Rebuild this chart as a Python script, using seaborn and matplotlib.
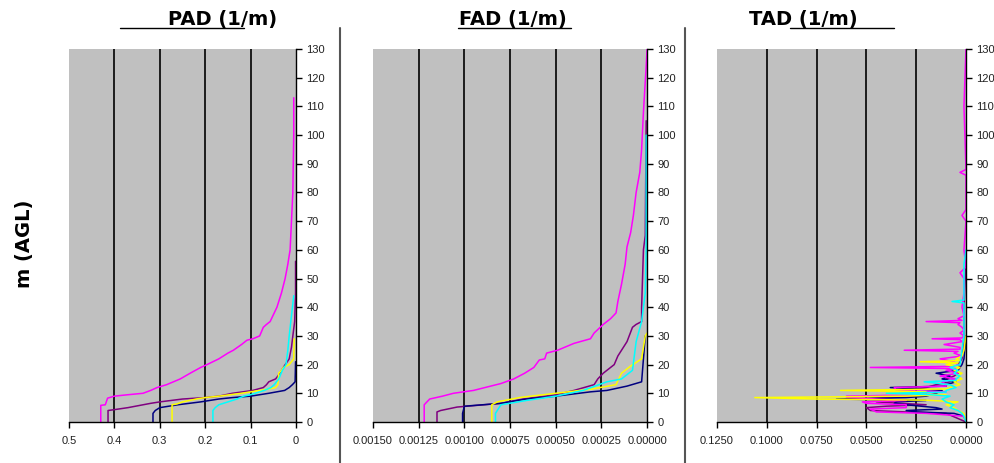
import matplotlib

matplotlib.use('Agg')
import matplotlib.pyplot as plt
from matplotlib.lines import Line2D
import seaborn as sns

# ---- PAD (1/m) profiles: heights (m) and values
pad_h_magenta = [0, 5.8, 6, 8.3, 9, 9.5, 10, 11, 12, 13, 15, 17, 19, 20, 22, 24, 25, 27, 28.5, 29, 30,
                 33, 34, 35, 38, 40, 45, 50, 55, 60, 70, 80, 90, 100, 113]
pad_magenta = [0.430, 0.430, 0.420, 0.415, 0.400, 0.370, 0.337, 0.320, 0.306, 0.285, 0.255, 0.233, 0.210,
               0.196, 0.170, 0.150, 0.138, 0.120, 0.108, 0.095, 0.080, 0.072, 0.065, 0.057, 0.048, 0.042,
               0.032, 0.024, 0.018, 0.013, 0.010, 0.007, 0.006, 0.005, 0.005]
pad_h_purple = [0, 4, 4.3, 5, 6.5, 7, 8, 8.5, 9, 10, 11, 12, 13, 14, 15, 16, 19, 22, 26, 30, 35, 45, 56]
pad_purple = [0.414, 0.414, 0.400, 0.370, 0.320, 0.300, 0.250, 0.200, 0.170, 0.140, 0.095, 0.072, 0.065,
              0.060, 0.045, 0.040, 0.028, 0.015, 0.010, 0.007, 0.003, 0.001, 0.001]
pad_h_navy = [0, 3, 4, 5, 6, 7, 8, 8.5, 9, 10, 11, 12, 13, 14, 21]
pad_navy = [0.315, 0.315, 0.310, 0.300, 0.260, 0.210, 0.170, 0.140, 0.100, 0.060, 0.025, 0.015, 0.008,
            0.002, 0.001]
pad_h_yellow = [0, 6, 6.3, 7, 8, 8.5, 9, 10, 10.5, 11.5, 12, 13, 17, 18, 19, 20, 22, 29]
pad_yellow = [0.273, 0.273, 0.262, 0.250, 0.220, 0.200, 0.170, 0.120, 0.100, 0.060, 0.045, 0.040, 0.038,
              0.032, 0.028, 0.015, 0.005, 0.004]
pad_h_cyan = [0, 4, 5, 6, 7, 8, 9, 9.5, 10, 11, 12, 13, 15, 18, 20, 25, 30, 37, 44]
pad_cyan = [0.183, 0.183, 0.178, 0.170, 0.150, 0.130, 0.115, 0.100, 0.090, 0.070, 0.055, 0.048, 0.038,
            0.030, 0.022, 0.018, 0.015, 0.010, 0.005]

# ---- FAD (1/m)
fad_h_magenta = [0, 6, 8, 9, 10, 11, 13.4, 15, 17, 19, 21.6, 22, 24, 25, 27.4, 29, 31, 34, 36, 38, 42, 48,
                 55, 61, 66, 72, 80, 87, 95, 108, 124, 130]
fad_magenta = [0.00122, 0.00122, 0.00119, 0.00112, 0.00106, 0.00095, 0.00080, 0.00073, 0.00067, 0.00062,
               0.00059, 0.00056, 0.00055, 0.00049, 0.00040, 0.00031, 0.00029, 0.00024, 0.00020, 0.00017,
               0.00016, 0.00014, 0.00012, 0.00011, 0.00009, 0.000075, 0.00006, 0.00004, 0.00003, 0.00002,
               0.000005, 0.0]
fad_h_purple = [0, 3.5, 4, 5.2, 6.5, 8, 9.5, 11, 13, 15, 17, 20, 23, 25, 28, 33, 34, 35, 40, 60, 65, 105]
fad_purple = [0.00115, 0.00115, 0.00113, 0.00104, 0.00080, 0.00068, 0.00050, 0.00040, 0.00029, 0.00027,
              0.00024, 0.00018, 0.00016, 0.00014, 0.00011, 0.00008, 0.00006, 0.00003, 0.00003, 0.00002,
              0.00001, 0.000005]
fad_h_navy = [0, 3, 5.5, 6.5, 8, 9, 10.5, 11, 12.5, 14, 22, 30]
fad_navy = [0.00101, 0.00101, 0.00100, 0.00080, 0.00066, 0.00050, 0.00031, 0.00022, 0.00011, 0.00003,
            0.00002, 0.00001]
fad_h_yellow = [0, 6, 7, 8.5, 10, 11.5, 13, 17, 19.5, 22, 30, 31]
fad_yellow = [0.00085, 0.00085, 0.00082, 0.00070, 0.00050, 0.00030, 0.00017, 0.00014, 0.00009, 0.00003,
              0.00001, 0.0]
fad_h_cyan = [0, 3, 6, 7.5, 9, 11, 14, 15, 18, 28, 35, 45, 60, 100]
fad_cyan = [0.00083, 0.00083, 0.00080, 0.00066, 0.00050, 0.00035, 0.00022, 0.00014, 0.00008, 0.00006,
            0.00003, 0.00001, 0.000005, 0.000005]

# ---- TAD (1/m)
tad_h_magenta = [0, 2, 3, 3.5, 4.5, 5, 6, 6.5, 7, 7.5, 8, 8.6, 9, 9.5, 10, 10.5, 11, 12, 12.5, 13, 14, 15,
                 16, 17, 18, 18.6, 19, 19.4, 20, 21, 22, 23, 24, 24.6, 25, 25.4, 26, 27, 28, 28.7, 29, 29.3,
                 30, 31, 32, 33, 34, 34.6, 35, 35.4, 36, 37, 40, 45, 50, 52, 54, 60, 70, 72, 74, 86, 87, 88,
                 110, 130]
tad_magenta = [0, 0.001, 0.020, 0.045, 0.048, 0.030, 0.030, 0.050, 0.052, 0.030, 0.045, 0.060, 0.060, 0.020,
               0.025, 0.010, 0.035, 0.036, 0.010, 0.010, 0.012, 0.005, 0.013, 0.004, 0.010, 0.004, 0.048,
               0.005, 0.004, 0.006, 0.013, 0.002, 0.006, 0.004, 0.031, 0.003, 0.003, 0.011, 0.002, 0.003,
               0.017, 0.002, 0.001, 0.003, 0.001, 0.002, 0.004, 0.003, 0.020, 0.002, 0.004, 0.001, 0.002,
               0.001, 0.001, 0.003, 0.0, 0.001, 0.0, 0.002, 0.0, 0.0, 0.003, 0.0, 0.001, 0.0]
tad_h_purple = [0, 3, 3.5, 4, 5, 5.5, 6, 7, 7.5, 8, 9, 10, 11, 12, 13, 14, 15, 16, 17, 18, 19, 20, 22, 30,
                40, 56]
tad_purple = [0, 0.010, 0.030, 0.048, 0.050, 0.040, 0.020, 0.045, 0.030, 0.055, 0.025, 0.020, 0.030, 0.020,
              0.015, 0.008, 0.010, 0.006, 0.004, 0.006, 0.003, 0.004, 0.002, 0.001, 0.001, 0.0]
tad_h_navy = [0, 2, 3, 3.5, 4, 4.5, 5, 6, 6.5, 7, 7.5, 8, 8.5, 9, 10, 11, 12, 12.5, 13, 14, 15, 16, 17, 18,
              19, 20, 22, 30]
tad_navy = [0, 0.001, 0.006, 0.025, 0.030, 0.012, 0.015, 0.030, 0.036, 0.035, 0.020, 0.065, 0.030, 0.020,
            0.015, 0.012, 0.038, 0.010, 0.010, 0.005, 0.012, 0.008, 0.015, 0.004, 0.003, 0.002, 0.001, 0.0]
tad_h_yellow = [0, 3, 4, 5, 6, 7, 7.6, 8, 8.5, 9, 9.5, 10, 10.5, 11, 11.5, 12, 13, 14, 15, 16, 17, 18, 19,
                20, 20.6, 21, 21.4, 22, 23, 25, 30]
tad_yellow = [0, 0.001, 0.004, 0.006, 0.010, 0.004, 0.020, 0.075, 0.106, 0.030, 0.010, 0.040, 0.020, 0.063,
              0.010, 0.008, 0.003, 0.006, 0.002, 0.004, 0.002, 0.006, 0.003, 0.010, 0.004, 0.023, 0.003,
              0.005, 0.002, 0.001, 0.0]
tad_h_cyan = [0, 2, 3, 4, 5, 6, 7, 8, 9, 9.6, 10, 10.4, 11, 12, 13, 14, 14.5, 15, 16, 17, 18, 19, 20, 25,
              30, 41.5, 42, 42.5, 55, 60]
tad_cyan = [0, 0.001, 0.002, 0.004, 0.008, 0.006, 0.010, 0.012, 0.008, 0.020, 0.040, 0.010, 0.010, 0.005,
            0.008, 0.021, 0.005, 0.005, 0.003, 0.006, 0.004, 0.008, 0.003, 0.002, 0.001, 0.001, 0.007,
            0.001, 0.001, 0.0]

colors = {'purple': '#800080', 'navy': '#000080', 'magenta': '#FF00FF', 'yellow': '#FFFF00', 'cyan': '#00FFFF'}

panels = [
    {'title': 'PAD (1/m)', 'xmax': 0.5, 'ticks': [0.5, 0.4, 0.3, 0.2, 0.1, 0],
     'labels': ['0.5', '0.4', '0.3', '0.2', '0.1', '0'],
     'series': [('purple', pad_h_purple, pad_purple), ('navy', pad_h_navy, pad_navy),
                ('magenta', pad_h_magenta, pad_magenta), ('yellow', pad_h_yellow, pad_yellow),
                ('cyan', pad_h_cyan, pad_cyan)]},
    {'title': 'FAD (1/m)', 'xmax': 0.0015, 'ticks': [0.0015, 0.00125, 0.001, 0.00075, 0.0005, 0.00025, 0],
     'labels': ['0.00150', '0.00125', '0.00100', '0.00075', '0.00050', '0.00025', '0.00000'],
     'series': [('purple', fad_h_purple, fad_purple), ('navy', fad_h_navy, fad_navy),
                ('magenta', fad_h_magenta, fad_magenta), ('yellow', fad_h_yellow, fad_yellow),
                ('cyan', fad_h_cyan, fad_cyan)]},
    {'title': 'TAD (1/m)', 'xmax': 0.125, 'ticks': [0.125, 0.1, 0.075, 0.05, 0.025, 0],
     'labels': ['0.1250', '0.1000', '0.0750', '0.0500', '0.0250', '0.0000'],
     'series': [('purple', tad_h_purple, tad_purple), ('navy', tad_h_navy, tad_navy),
                ('magenta', tad_h_magenta, tad_magenta), ('yellow', tad_h_yellow, tad_yellow),
                ('cyan', tad_h_cyan, tad_cyan)]},
]

sns.set_style('white')
plt.rcParams['font.family'] = ['Liberation Sans', 'DejaVu Sans']

fig = plt.figure(figsize=(9.94, 4.63), dpi=100)
boxes = [(0.0694, 0.2284), (0.3753, 0.2757), (0.7213, 0.2505)]
bottom, height = 0.0886, 0.8056
title_x = [0.224, 0.516, 0.808]
underline = [(0.121, 0.245), (0.461, 0.574), (0.795, 0.899)]

for p, (left, width), tx, (u0, u1) in zip(panels, boxes, title_x, underline):
    ax = fig.add_axes([left, bottom, width, height])
    ax.set_facecolor('#C0C0C0')
    for name, hh, vv in p['series']:
        sns.lineplot(x=vv, y=hh, sort=False, estimator=None, color=colors[name], lw=1.1, ax=ax)
    ax.set_xlim(p['xmax'], 0)
    ax.set_ylim(0, 130)
    ax.set_xticks(p['ticks'])
    ax.set_xticklabels(p['labels'])
    ax.set_yticks(range(0, 131, 10))
    ax.yaxis.tick_right()
    ax.tick_params(axis='both', direction='out', length=4, width=1, color='black',
                   labelsize=8, labelcolor='#222222', bottom=True, right=True, left=False)
    ax.tick_params(axis='x', pad=6)
    ax.set_xlabel('')
    ax.set_ylabel('')
    for s in ['top', 'left']:
        ax.spines[s].set_visible(False)
    for s in ['right', 'bottom']:
        ax.spines[s].set_color('black')
        ax.spines[s].set_linewidth(1)
    for t in p['ticks'][1:-1]:
        ax.axvline(t, color='black', lw=1.2, zorder=1)
    fig.text(tx, 0.958, p['title'], ha='center', va='center', fontsize=14, fontweight='bold',
             color='black', family='DejaVu Sans')
    fig.add_artist(Line2D([u0, u1], [0.939, 0.939], color='black', lw=1))

for xs in [0.342, 0.689]:
    fig.add_artist(Line2D([xs, xs], [0.0, 0.94], color='#555555', lw=1.5))

fig.text(0.025, 0.473, 'm (AGL)', rotation=90, ha='center', va='center', fontsize=14, fontweight='bold',
         color='black', family='DejaVu Sans')

plt.savefig('out.png', dpi=100)
plt.close()
